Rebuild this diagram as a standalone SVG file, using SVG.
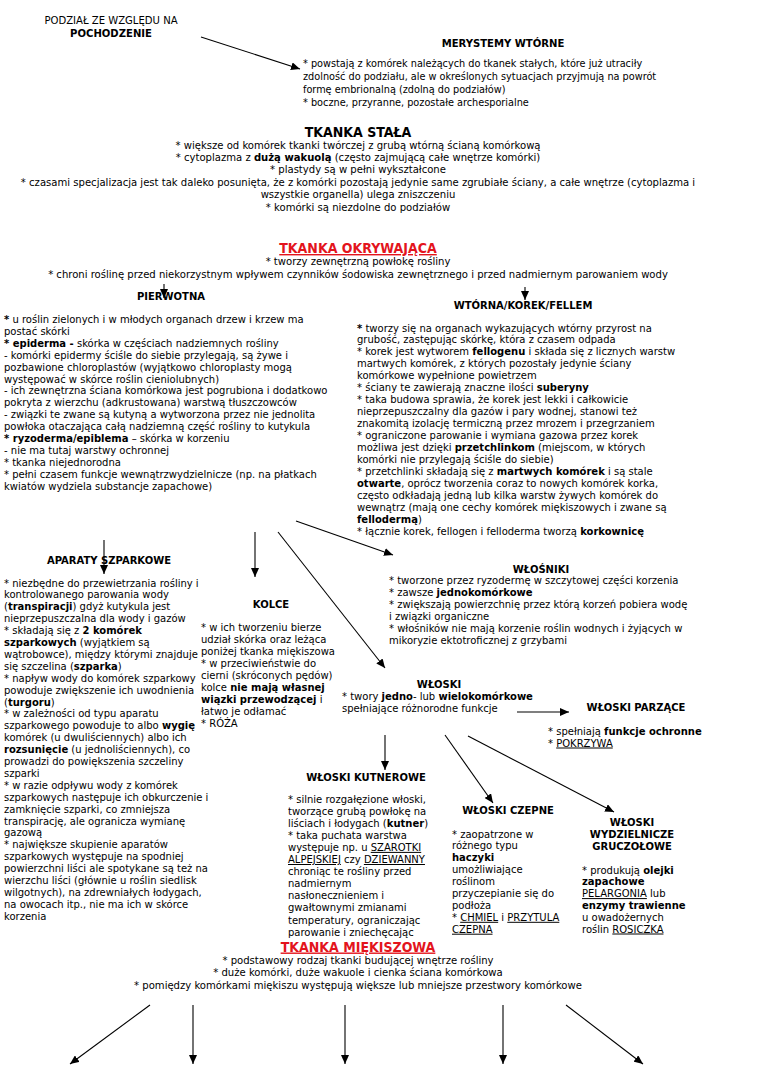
<svg xmlns="http://www.w3.org/2000/svg" width="760" height="1075" viewBox="0 0 760 1075">
<defs>
<marker id="ah" markerUnits="userSpaceOnUse" markerWidth="9" markerHeight="8" refX="9" refY="4" orient="auto">
<path d="M0,0 L9,4 L0,8 z" fill="#000"/>
</marker>
<style>
text{fill:#000}
.c{font-family:'DejaVu Sans Condensed','DejaVu Sans',sans-serif;font-stretch:condensed;font-size:10.8px}
.c2{font-family:'DejaVu Sans Condensed','DejaVu Sans',sans-serif;font-stretch:condensed;font-size:11.2px}
.d{font-family:'DejaVu Sans',sans-serif;font-size:10px}
.b{font-weight:bold}
.m{text-anchor:middle}
.h1{font-family:'DejaVu Sans Condensed','DejaVu Sans',sans-serif;font-stretch:condensed;font-weight:bold;font-size:14px}
.red{fill:#e3141c;text-decoration:underline}
.u{text-decoration:underline}
.ln{stroke:#000;stroke-width:1.1;fill:none;marker-end:url(#ah)}
</style>
</defs>
<rect width="760" height="1075" fill="#fff"/>

<g id="connectors">
<line class="ln" x1="201" y1="37" x2="300" y2="69"/>
<line class="ln" x1="164" y1="284" x2="164" y2="298"/>
<line class="ln" x1="525" y1="287" x2="525" y2="300"/>
<line class="ln" x1="104" y1="540" x2="104" y2="574"/>
<line class="ln" x1="255" y1="532" x2="255" y2="577"/>
<line class="ln" x1="296" y1="521" x2="393" y2="555"/>
<line class="ln" x1="278" y1="532" x2="385" y2="668"/>
<line class="ln" x1="517" y1="712" x2="569" y2="712"/>
<line class="ln" x1="385" y1="735" x2="385" y2="770"/>
<line class="ln" x1="445" y1="735" x2="493" y2="803"/>
<line class="ln" x1="468" y1="736" x2="614" y2="812"/>
<line class="ln" x1="150" y1="1005" x2="70" y2="1064"/>
<line class="ln" x1="193" y1="1005" x2="193" y2="1064"/>
<line class="ln" x1="345" y1="1005" x2="345" y2="1064"/>
<line class="ln" x1="503" y1="1005" x2="503" y2="1064"/>
<line class="ln" x1="566" y1="1005" x2="643" y2="1064"/>
</g>

<g id="podzial">
<text class="c m" x="111" y="24" style="font-size:11.2px">PODZIAŁ ZE WZGLĘDU NA</text>
<text class="c m b" x="111" y="37" style="font-size:11.2px">POCHODZENIE</text>
</g>

<g id="merystemy-wtorne">
<text class="c m b" x="503" y="47" style="font-size:11.2px">MERYSTEMY WTÓRNE</text>
<text class="c" x="303" y="67">* powstają z komórek należących do tkanek stałych, które już utraciły</text>
<text class="c" x="303" y="80">zdolność do podziału, ale w określonych sytuacjach przyjmują na powrót</text>
<text class="c" x="303" y="93">formę embrionalną (zdolną do podziałów)</text>
<text class="c" x="303" y="106">* boczne, przyranne, pozostałe archesporialne</text>
</g>

<g id="tkanka-stala">
<text class="h1 m" x="358" y="137">TKANKA STAŁA</text>
<text class="c2 m" x="358" y="148.5">* większe od komórek tkanki twórczej z grubą wtórną ścianą komórkową</text>
<text class="c2 m" x="358" y="160.9">* cytoplazma z <tspan class="b">dużą wakuolą</tspan> (często zajmującą całe wnętrze komórki)</text>
<text class="c2 m" x="358" y="173.3">* plastydy są w pełni wykształcone</text>
<text class="c2 m" x="358" y="185.7">* czasami specjalizacja jest tak daleko posunięta, że z komórki pozostają jedynie same zgrubiałe ściany, a całe wnętrze (cytoplazma i</text>
<text class="c2 m" x="358" y="198.1">wszystkie organella) ulega zniszczeniu</text>
<text class="c2 m" x="358" y="210.5">* komórki są niezdolne do podziałów</text>
</g>

<g id="tkanka-okrywajaca">
<text class="h1 m red" x="358" y="253">TKANKA OKRYWAJĄCA</text>
<text class="c2 m" x="358" y="265">* tworzy zewnętrzną powłokę rośliny</text>
<text class="c2 m" x="358" y="277.5">* chroni roślinę przed niekorzystnym wpływem czynników śodowiska zewnętrznego i przed nadmiernym parowaniem wody</text>
</g>

<g id="pierwotna">
<text class="d b m" x="171" y="299.5">PIERWOTNA</text>
<text class="d" x="4" y="323"><tspan class="b">*</tspan> u roślin zielonych i w młodych organach drzew i krzew ma</text>
<text class="d" x="4" y="334.9">postać skórki</text>
<text class="d" x="4" y="346.8"><tspan class="b">* epiderma -</tspan> skórka w częściach nadziemnych rośliny</text>
<text class="d" x="4" y="358.7">- komórki epidermy ściśle do siebie przylegają, są żywe i</text>
<text class="d" x="4" y="370.6">pozbawione chloroplastów (wyjątkowo chloroplasty mogą</text>
<text class="d" x="4" y="382.5">występować w skórce roślin cieniolubnych)</text>
<text class="d" x="4" y="394.4">- ich zewnętrzna ściana komórkowa jest pogrubiona i dodatkowo</text>
<text class="d" x="4" y="406.3">pokryta z wierzchu (adkrustowana) warstwą tłuszczowców</text>
<text class="d" x="4" y="418.2">- związki te zwane są kutyną a wytworzona przez nie jednolita</text>
<text class="d" x="4" y="430.1">powłoka otaczająca całą nadziemną część rośliny to kutykula</text>
<text class="d" x="4" y="442"><tspan class="b">* ryzoderma/epiblema</tspan> – skórka w korzeniu</text>
<text class="d" x="4" y="453.9">- nie ma tutaj warstwy ochronnej</text>
<text class="d" x="4" y="465.8">* tkanka niejednorodna</text>
<text class="d" x="4" y="477.7">* pełni czasem funkcje wewnątrzwydzielnicze (np. na płatkach</text>
<text class="d" x="4" y="489.6">kwiatów wydziela substancje zapachowe)</text>
</g>

<g id="wtorna">
<text class="d b m" x="523" y="308.5">WTÓRNA/KOREK/FELLEM</text>
<text class="d" x="357" y="331.5"><tspan class="b">*</tspan> tworzy się na organach wykazujących wtórny przyrost na</text>
<text class="d" x="357" y="343.45">grubość, zastępując skórkę, która z czasem odpada</text>
<text class="d" x="357" y="355.4">* korek jest wytworem <tspan class="b">fellogenu</tspan> i składa się z licznych warstw</text>
<text class="d" x="357" y="367.35">martwych komórek, z których pozostały jedynie ściany</text>
<text class="d" x="357" y="379.3">komórkowe wypełnione powietrzem</text>
<text class="d" x="357" y="391.25">* ściany te zawierają znaczne ilości <tspan class="b">suberyny</tspan></text>
<text class="d" x="357" y="403.2">* taka budowa sprawia, że korek jest lekki i całkowicie</text>
<text class="d" x="357" y="415.15">nieprzepuszczalny dla gazów i pary wodnej, stanowi też</text>
<text class="d" x="357" y="427.1">znakomitą izolację termiczną przez mrozem i przegrzaniem</text>
<text class="d" x="357" y="439.05">* ograniczone parowanie i wymiana gazowa przez korek</text>
<text class="d" x="357" y="451">możliwa jest dzięki <tspan class="b">przetchlinkom</tspan> (miejscom, w których</text>
<text class="d" x="357" y="462.95">komórki nie przylegają ściśle do siebie)</text>
<text class="d" x="357" y="474.9">* przetchlinki składają się z <tspan class="b">martwych komórek</tspan> i są stale</text>
<text class="d" x="357" y="486.85"><tspan class="b">otwarte</tspan>, oprócz tworzenia coraz to nowych komórek korka,</text>
<text class="d" x="357" y="498.8">często odkładają jedną lub kilka warstw żywych komórek do</text>
<text class="d" x="357" y="510.75">wewnątrz (mają one cechy komórek miękiszowych i zwane są</text>
<text class="d" x="357" y="522.7"><tspan class="b">fellodermą</tspan>)</text>
<text class="d" x="357" y="534.65">* łącznie korek, fellogen i felloderma tworzą <tspan class="b">korkownicę</tspan></text>
</g>

<g id="aparaty-szparkowe">
<text class="d b m" x="109" y="563.5">APARATY SZPARKOWE</text>
<text class="d" x="4" y="586.5">* niezbędne do przewietrzania rośliny i</text>
<text class="d" x="4" y="598.4">kontrolowanego parowania wody</text>
<text class="d" x="4" y="610.3">(<tspan class="b">transpiracji</tspan>) gdyż kutykula jest</text>
<text class="d" x="4" y="622.2">nieprzepuszczalna dla wody i gazów</text>
<text class="d" x="4" y="634.1">* składają się z <tspan class="b">2 komórek</tspan></text>
<text class="d" x="4" y="646"><tspan class="b">szparkowych</tspan> (wyjątkiem są</text>
<text class="d" x="4" y="657.9">wątrobowce), między którymi znajduje</text>
<text class="d" x="4" y="669.8">się szczelina (<tspan class="b">szparka</tspan>)</text>
<text class="d" x="4" y="681.7">* napływ wody do komórek szparkowy</text>
<text class="d" x="4" y="693.6">powoduje zwiększenie ich uwodnienia</text>
<text class="d" x="4" y="705.5">(<tspan class="b">turgoru</tspan>)</text>
<text class="d" x="4" y="717.4">* w zależności od typu aparatu</text>
<text class="d" x="4" y="729.3">szparkowego powoduje to albo <tspan class="b">wygię</tspan></text>
<text class="d" x="4" y="741.2">komórek (u dwuliściennych) albo ich</text>
<text class="d" x="4" y="753.1"><tspan class="b">rozsunięcie</tspan> (u jednoliściennych), co</text>
<text class="d" x="4" y="765">prowadzi do powiększenia szczeliny</text>
<text class="d" x="4" y="776.9">szparki</text>
<text class="d" x="4" y="788.8">* w razie odpływu wody z komórek</text>
<text class="d" x="4" y="800.7">szparkowych następuje ich obkurczenie i</text>
<text class="d" x="4" y="812.6">zamknięcie szparki, co zmniejsza</text>
<text class="d" x="4" y="824.5">transpirację, ale ogranicza wymianę</text>
<text class="d" x="4" y="836.4">gazową</text>
<text class="d" x="4" y="848.3">* największe skupienie aparatów</text>
<text class="d" x="4" y="860.2">szparkowych występuje na spodniej</text>
<text class="d" x="4" y="872.1">powierzchni liści ale spotykane są też na</text>
<text class="d" x="4" y="884">wierzchu liści (głównie u roślin siedlisk</text>
<text class="d" x="4" y="895.9">wilgotnych), na zdrewniałych łodygach,</text>
<text class="d" x="4" y="907.8">na owocach itp., nie ma ich w skórce</text>
<text class="d" x="4" y="919.7">korzenia</text>
</g>

<g id="kolce">
<rect x="200" y="642" width="141" height="90" fill="#fff"/>
<text class="d b m" x="271" y="607.5">KOLCE</text>
<text class="d" x="201" y="630.5">* w ich tworzeniu bierze</text>
<text class="d" x="201" y="642.5">udział skórka oraz leżąca</text>
<text class="d" x="201" y="654.5">poniżej tkanka miękiszowa</text>
<text class="d" x="201" y="666.5">* w przeciwieństwie do</text>
<text class="d" x="201" y="678.5">cierni (skróconych pędów)</text>
<text class="d" x="201" y="690.5">kolce <tspan class="b">nie mają własnej</tspan></text>
<text class="d" x="201" y="702.5"><tspan class="b">wiązki przewodzącej</tspan> i</text>
<text class="d" x="201" y="714.5">łatwo je odłamać</text>
<text class="d" x="201" y="726.5">* RÓŻA</text>
</g>

<g id="wlosniki">
<text class="d b m" x="541" y="572.5">WŁOŚNIKI</text>
<text class="d" x="389" y="584">* tworzone przez ryzodermę w szczytowej części korzenia</text>
<text class="d" x="389" y="596">* zawsze <tspan class="b">jednokomórkowe</tspan></text>
<text class="d" x="389" y="608">* zwiększają powierzchnię przez którą korzeń pobiera wodę</text>
<text class="d" x="389" y="620">i związki organiczne</text>
<text class="d" x="389" y="632">* włośników nie mają korzenie roślin wodnych i żyjących w</text>
<text class="d" x="389" y="644">mikoryzie ektotroficznej z grzybami</text>
</g>

<g id="wloski">
<text class="d b m" x="439" y="688">WŁOSKI</text>
<text class="d" x="342" y="699.5">* twory <tspan class="b">jedno</tspan>- lub <tspan class="b">wielokomórkowe</tspan></text>
<text class="d" x="342" y="711.5">spełniające różnorodne funkcje</text>
</g>

<g id="wloski-parzace">
<text class="d b m" x="636" y="711">WŁOSKI PARZĄCE</text>
<text class="d" x="548" y="734.5">* spełniają <tspan class="b">funkcje ochronne</tspan></text>
<text class="d" x="548" y="746.5">* <tspan class="u">POKRZYWA</tspan></text>
</g>

<g id="wloski-kutnerowe">
<text class="d b m" x="366" y="780.5">WŁOSKI KUTNEROWE</text>
<text class="d" x="288" y="802.5">* silnie rozgałęzione włoski,</text>
<text class="d" x="288" y="814.6">tworzące grubą powłokę na</text>
<text class="d" x="288" y="826.7">liściach i łodygach (<tspan class="b">kutner</tspan>)</text>
<text class="d" x="288" y="838.8">* taka puchata warstwa</text>
<text class="d" x="288" y="850.9">występuje np. u <tspan class="u">SZAROTKI </tspan></text>
<text class="d" x="288" y="863"><tspan class="u">ALPEJSKIEJ</tspan> czy <tspan class="u">DZIEWANNY</tspan></text>
<text class="d" x="288" y="875.1">chroniąc te rośliny przed</text>
<text class="d" x="288" y="887.2">nadmiernym</text>
<text class="d" x="288" y="899.3">nasłonecznieniem i</text>
<text class="d" x="288" y="911.4">gwałtownymi zmianami</text>
<text class="d" x="288" y="923.5">temperatury, ograniczając</text>
<text class="d" x="288" y="935.6">parowanie i zniechęcając</text>
</g>

<g id="wloski-czepne">
<text class="d b m" x="508" y="814">WŁOSKI CZEPNE</text>
<text class="d" x="452" y="837.5">* zaopatrzone w</text>
<text class="d" x="452" y="849.4">różnego typu</text>
<text class="d" x="452" y="861.3"><tspan class="b">haczyki</tspan></text>
<text class="d" x="452" y="873.2">umożliwiające</text>
<text class="d" x="452" y="885.1">roślinom</text>
<text class="d" x="452" y="897">przyczepianie się do</text>
<text class="d" x="452" y="908.9">podłoża</text>
<text class="d" x="452" y="920.8">* <tspan class="u">CHMIEL</tspan> i <tspan class="u">PRZYTULA </tspan></text>
<text class="d" x="452" y="932.7"><tspan class="u">CZEPNA</tspan></text>
</g>

<g id="wloski-wydzielnicze">
<text class="d b m" x="632" y="825.5">WŁOSKI</text>
<text class="d b m" x="632" y="837.5">WYDZIELNICZE</text>
<text class="d b m" x="632" y="849.5">GRUCZOŁOWE</text>
<text class="d" x="582" y="873.5">* produkują <tspan class="b">olejki</tspan></text>
<text class="d" x="582" y="885.3"><tspan class="b">zapachowe</tspan></text>
<text class="d" x="582" y="897.1"><tspan class="u">PELARGONIA</tspan> lub</text>
<text class="d" x="582" y="908.9"><tspan class="b">enzymy trawienne</tspan></text>
<text class="d" x="582" y="920.7">u owadożernych</text>
<text class="d" x="582" y="932.5">roślin <tspan class="u">ROSICZKA</tspan></text>
</g>

<g id="tkanka-miekiszowa">
<text class="h1 m red" x="358" y="951.5">TKANKA MIĘKISZOWA</text>
<text class="c2 m" x="358" y="963.5">* podstawowy rodzaj tkanki budującej wnętrze rośliny</text>
<text class="c2 m" x="358" y="976">* duże komórki, duże wakuole i cienka ściana komórkowa</text>
<text class="c2 m" x="358" y="988.5">* pomiędzy komórkami miękiszu występują większe lub mniejsze przestwory komórkowe</text>
</g>
</svg>
